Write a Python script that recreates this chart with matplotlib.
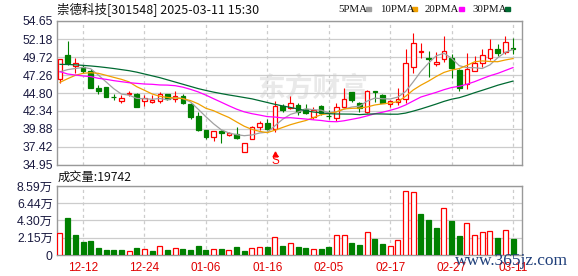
import matplotlib
matplotlib.use("Agg")
import matplotlib.pyplot as plt
import numpy as np

# daily candles 2024-12-09 .. 2025-03-11
opens = [46.67, 50.00, 48.49, 48.40, 47.86, 45.53, 45.62, 44.23, 43.66, 44.62,
         44.66, 43.75, 43.62, 43.71, 44.66, 43.93, 44.39, 43.30, 41.65, 39.74,
         38.83, 39.60, 39.12, 39.15, 36.68, 38.46, 40.19, 40.65, 39.83, 43.02,
         42.70, 43.16, 42.57, 41.56, 43.02, 41.70, 41.33, 42.93, 44.98, 43.39,
         42.25, 45.03, 44.53, 43.30, 43.52, 44.00, 48.40, 50.45, 49.54, 48.72,
         49.41, 49.63, 47.95, 45.99, 47.86, 48.86, 49.54, 50.77, 50.36, 50.96]
highs = [49.41, 51.91, 49.54, 48.63, 48.04, 45.90, 45.62, 44.66, 44.48, 45.12,
         44.85, 44.53, 44.53, 44.98, 44.66, 45.07, 44.66, 43.48, 42.25, 39.74,
         39.60, 39.74, 39.42, 40.10, 38.01, 40.29, 40.97, 41.20, 43.75, 43.30,
         44.39, 43.39, 43.30, 42.84, 43.16, 42.47, 43.39, 45.44, 44.98, 43.62,
         45.21, 45.12, 44.66, 43.84, 45.44, 50.80, 53.06, 51.59, 50.55, 50.45,
         52.60, 50.09, 48.04, 50.32, 49.86, 50.77, 52.14, 51.46, 52.60, 52.28]
lows = [46.21, 48.63, 47.49, 47.58, 45.53, 44.66, 44.30, 43.84, 43.39, 44.39,
        42.84, 43.02, 43.48, 43.39, 43.84, 43.62, 43.25, 41.20, 39.65, 38.46,
        38.28, 37.92, 38.92, 38.51, 36.68, 38.46, 39.74, 39.74, 39.51, 42.25,
        42.57, 41.79, 41.93, 41.20, 41.79, 41.20, 41.01, 42.70, 43.62, 42.25,
        42.11, 43.62, 43.48, 42.84, 43.16, 43.48, 47.58, 49.62, 47.03, 48.54,
        49.09, 46.81, 45.07, 45.35, 47.86, 48.40, 49.32, 49.86, 50.14, 50.09]
closes = [49.41, 48.95, 48.86, 47.86, 45.53, 45.07, 44.30, 44.21, 44.12, 44.85,
          42.84, 44.07, 43.84, 44.66, 43.93, 44.39, 43.39, 41.47, 39.74, 38.74,
          39.60, 39.28, 39.30, 38.60, 38.01, 40.10, 40.65, 39.83, 43.02, 42.47,
          43.39, 42.25, 42.02, 42.47, 42.11, 41.61, 42.93, 43.93, 43.84, 42.70,
          45.07, 44.94, 43.48, 43.71, 43.98, 48.86, 51.59, 50.55, 49.45, 48.99,
          50.55, 48.27, 45.44, 48.08, 48.95, 50.00, 50.77, 50.32, 51.82, 50.87]
# volume in 万 (10k lots)
volume_wan = [2.70, 4.61, 2.49, 1.62, 1.75, 0.87, 0.62, 0.62, 0.62, 0.54,
              0.87, 0.71, 0.50, 1.08, 0.62, 0.83, 0.71, 0.62, 1.12, 0.62,
              0.71, 0.75, 0.58, 1.00, 0.50, 0.83, 0.96, 1.00, 2.20, 1.12,
              1.45, 1.00, 0.87, 0.71, 0.75, 1.00, 2.45, 2.45, 1.50, 1.25,
              2.83, 2.00, 1.33, 1.08, 1.83, 7.98, 7.81, 5.11, 4.36, 3.37,
              5.82, 4.24, 2.37, 3.95, 2.45, 2.83, 2.95, 2.12, 3.08, 1.9742]

ma5 = [47.70, 48.00, 48.15, 48.30, 48.12, 47.25, 46.32, 45.39, 44.65, 44.51,
       44.06, 44.02, 43.94, 44.05, 43.87, 44.18, 44.04, 43.57, 42.58, 41.55,
       40.59, 39.77, 39.33, 39.10, 38.96, 39.06, 39.33, 39.44, 40.32, 41.21,
       41.87, 42.19, 42.63, 42.52, 42.45, 42.09, 42.23, 42.61, 42.88, 43.00,
       43.69, 44.10, 44.01, 43.98, 44.24, 44.99, 46.32, 47.74, 48.89, 49.89,
       50.23, 49.56, 48.54, 48.27, 48.26, 48.15, 48.65, 49.62, 50.37, 50.76]
ma10 = [46.26, 46.76, 47.22, 47.49, 47.58, 47.49, 47.22, 46.94, 46.67, 46.32,
        45.66, 45.17, 44.67, 44.35, 44.19, 44.12, 44.03, 43.76, 43.32, 42.71,
        42.38, 41.90, 41.45, 40.84, 40.25, 39.82, 39.55, 39.38, 39.71, 40.09,
        40.46, 40.76, 41.03, 41.42, 41.83, 41.98, 42.21, 42.62, 42.70, 42.73,
        42.89, 43.16, 43.31, 43.43, 43.62, 44.34, 45.21, 45.87, 46.43, 47.06,
        47.61, 47.94, 48.14, 48.58, 49.07, 49.19, 49.11, 49.08, 49.32, 49.51]
ma20 = [47.72, 47.40, 47.26, 47.13, 47.04, 46.81, 46.67, 46.49, 46.35, 46.21,
        46.12, 46.03, 45.99, 45.90, 45.88, 45.80, 45.60, 45.30, 44.95, 44.51,
        44.02, 43.54, 43.05, 42.59, 42.22, 41.97, 41.78, 41.57, 41.51, 41.39,
        41.42, 41.33, 41.24, 41.13, 41.04, 40.90, 40.87, 41.00, 41.20, 41.40,
        41.67, 41.96, 42.17, 42.43, 42.73, 43.16, 43.71, 44.25, 44.57, 44.89,
        45.25, 45.55, 45.72, 46.00, 46.35, 46.77, 47.16, 47.48, 47.88, 48.28]
ma30 = [48.72, 48.70, 48.65, 48.58, 48.50, 48.40, 48.28, 48.15, 48.00, 47.85,
        47.65, 47.40, 47.15, 46.90, 46.60, 46.30, 46.00, 45.70, 45.40, 45.15,
        44.92, 44.72, 44.53, 44.36, 44.18, 44.00, 43.75, 43.50, 43.25, 43.03,
        42.83, 42.61, 42.38, 42.20, 42.09, 41.97, 41.93, 41.92, 41.91, 41.84,
        41.91, 41.94, 41.93, 41.90, 41.90, 42.05, 42.32, 42.62, 42.95, 43.29,
        43.65, 43.95, 44.16, 44.48, 44.84, 45.17, 45.51, 45.86, 46.15, 46.43]

tick_pos = [3, 11, 19, 27, 35, 43, 51, 59]
tick_labels = ["12-12", "12-24", "01-06", "01-16", "02-05", "02-17", "02-27", "03-11"]
price_ticks = [34.95, 37.42, 39.88, 42.34, 44.80, 47.26, 49.72, 52.18, 54.65]
vol_ticks = [0, 2.15, 4.30, 6.44, 8.59]
sell_mark = 28  # the red "S" under 01-20

RED = "#ff0000"
GREEN = "#008000"
MA_COLORS = ["#a0a0a0", "#f0a000", "#ff00ff", "#006a32"]
GRID = "#cccccc"
FRAME = "#999999"
LABEL = "#1a1a40"

plt.rcParams["font.family"] = ["Noto Sans CJK SC", "DejaVu Sans"]
NUM_FONT = ["Liberation Sans", "Noto Sans CJK SC"]

W, H = 578, 276
fig = plt.figure(figsize=(W / 100, H / 100), dpi=100)


def box(left, top, right, bottom):
    return [left / W, 1 - bottom / H, (right - left) / W, (bottom - top) / H]


ax = fig.add_axes(box(57, 21, 522, 165))
axv = fig.add_axes(box(57, 186, 522, 255))

x = np.arange(len(closes))
o, h, l, c = (np.array(v) for v in (opens, highs, lows, closes))
up = c >= o

for a in (ax, axv):
    a.set_xlim(-0.39, 60.17)
    a.set_xticks(tick_pos)
    a.grid(axis="y", color=GRID, lw=0.9, zorder=0)
    a.grid(axis="x", color=GRID, lw=0.9, linestyle=(0, (2.5, 2.5)), zorder=0)
    for s in a.spines.values():
        s.set_color(FRAME)
        s.set_linewidth(1.0)
    a.tick_params(length=0, colors=LABEL, labelsize=8.8)

# candles
ax.vlines(x[up], l[up], h[up], color=RED, lw=0.8, zorder=3)
ax.vlines(x[~up], l[~up], h[~up], color=GREEN, lw=0.8, zorder=3)
body_lo = np.minimum(o, c)
body_h = np.maximum(np.abs(c - o), 0.03)
ax.bar(x[up], body_h[up], bottom=body_lo[up], width=0.6, facecolor="white",
       edgecolor=RED, lw=0.9, zorder=4)
ax.bar(x[~up], body_h[~up], bottom=body_lo[~up], width=0.6, facecolor=GREEN,
       edgecolor=GREEN, lw=0.9, zorder=4)

for ma, col in zip((ma5, ma10, ma20, ma30), MA_COLORS):
    ax.plot(x, ma, color=col, lw=0.9, zorder=5)

ax.set_ylim(price_ticks[0], price_ticks[-1])
ax.set_yticks(price_ticks)
ax.set_yticklabels([f"{v:.2f}" for v in price_ticks], family=NUM_FONT)
ax.tick_params(axis="x", labelbottom=False)
ax.tick_params(axis="y", pad=3)

# sell signal
ax.plot(sell_mark, 36.45, marker="^", color=RED, ms=3.5, zorder=6, clip_on=False)
ax.text(sell_mark, 35.45, "S", color=RED, ha="center", va="center", fontsize=8.5,
        family=NUM_FONT, zorder=6)

# watermark
ax.text(0.55, 0.53, "东方财富", transform=ax.transAxes, ha="center", va="center",
        fontsize=20, color="#e4e4e4", alpha=0.8, zorder=1, fontweight="bold")

# volume bars, coloured by close vs previous close
vol = np.array(volume_wan)
vup = np.r_[True, c[1:] >= c[:-1]]
axv.bar(x[vup], vol[vup], width=0.65, facecolor="white", edgecolor=RED, lw=0.9, zorder=3)
axv.bar(x[~vup], vol[~vup], width=0.65, facecolor=GREEN, edgecolor=GREEN, lw=0.9, zorder=3)
axv.set_ylim(vol_ticks[0], vol_ticks[-1])
axv.set_yticks(vol_ticks)
axv.set_yticklabels(["0"] + [f"{v:.2f}万" for v in vol_ticks[1:]], family=NUM_FONT)
axv.set_xticklabels(tick_labels, family=NUM_FONT, fontsize=8.5)
axv.tick_params(axis="x", colors="#e00000", pad=5)
axv.tick_params(axis="y", pad=3)

# header texts
fig.text(57 / W, 1 - 9 / H, "崇德科技[301548] 2025-03-11 15:30", fontsize=9,
         va="center", ha="left", color="#111111")
fig.text(58 / W, 1 - 177 / H, f"成交量:{volume_wan[-1] * 10000:.0f}", fontsize=8.8,
         va="center", ha="left", color="#111111")

legend_names = ["5PMA", "10PMA", "20PMA", "30PMA"]
legend_x = [338, 380, 425, 472]
legend_sq = [366, 412, 459, 505]
for name, tx, sx, col in zip(legend_names, legend_x, legend_sq, MA_COLORS):
    fig.text(tx / W, 1 - 9.5 / H, name, fontsize=7.8, family="Liberation Serif",
             va="center", ha="left", color="#111111")
    fig.patches.append(plt.Rectangle((sx / W, 1 - 11 / H), 5 / W, 4 / H,
                                     transform=fig.transFigure, color=col))

fig.text(455 / W, 1 - 261 / H, "www.365jz.com", fontsize=12.5, family="Liberation Serif",
         va="center", ha="left", color="#1f3f7a", zorder=10)

fig.savefig("out.png", dpi=100)
